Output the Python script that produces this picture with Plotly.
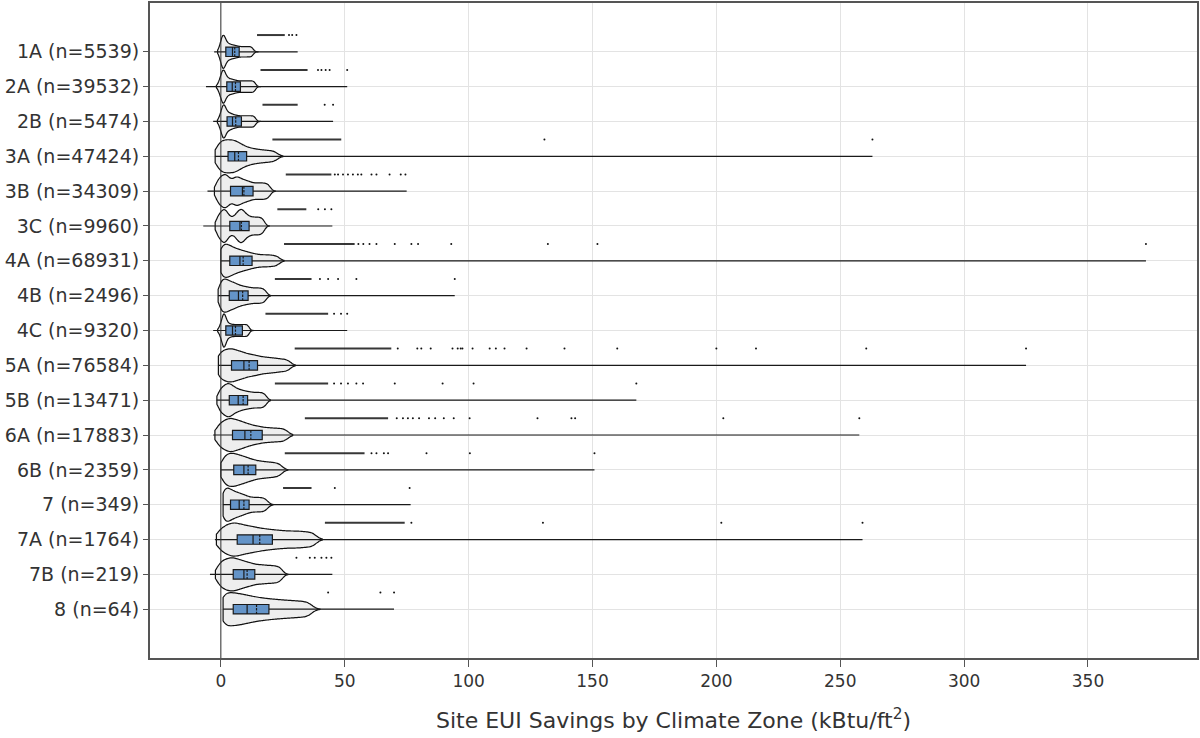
import plotly.graph_objects as go

# ---------------- data ----------------
zones = ["1A", "2A", "2B", "3A", "3B", "3C", "4A", "4B", "4C", "5A", "5B",
         "6A", "6B", "7", "7A", "7B", "8"]
counts = [5539, 39532, 5474, 47424, 34309, 9960, 68931, 2496, 9320, 76584,
          13471, 17883, 2359, 349, 1764, 219, 64]

# box statistics (kBtu/ft2)
q1 = [2.0, 2.4, 2.5, 2.9, 3.9, 3.6, 3.6, 3.4, 2.0, 4.3, 3.4, 4.7, 5.2, 3.9, 6.6, 5.0, 5.0]
median = [4.7, 4.6, 4.7, 5.6, 8.7, 7.7, 7.7, 7.1, 4.7, 9.3, 7.0, 9.7, 9.3, 7.4, 13.0, 9.3, 10.6]
mean = [5.6, 5.9, 6.0, 7.1, 9.3, 8.3, 9.0, 8.8, 5.9, 11.4, 9.0, 12.1, 11.0, 9.3, 15.7, 10.6, 14.4]
q3 = [7.4, 7.9, 8.3, 10.4, 13.0, 11.4, 12.6, 11.0, 8.7, 14.8, 10.8, 16.7, 14.1, 11.4, 20.8, 13.7, 19.4]
minimum = [-2.7, -6.0, -3.1, -2.4, -5.4, -7.1, 0.0, -1.1, -3.1, -1.0, -1.7, -3.1, 0.0, 0.9, -2.4, -4.4, 0.9]
maximum = [31.0, 51.0, 45.3, 263.0, 75.0, 45.0, 373.4, 94.4, 51.0, 325.0, 167.7, 257.7, 150.8, 76.6, 259.0, 45.0, 69.9]

# representative values of the violin bodies (estimated from the outline widths)
s_1A = [-0.5, 0.1, 0.4, 0.6, 0.8, 1.0, 1.2, 1.4, 1.7, 2.0, 2.4, 2.9, 3.4, 3.9, 4.5, 5.1, 5.7, 6.4, 7.1, 7.9, 8.7, 9.5, 10.3, 11.1, 11.9, 12.7]
s_2A = [-0.8, -0.1, 0.3, 0.6, 0.8, 1.0, 1.2, 1.5, 1.8, 2.2, 2.7, 3.2, 3.8, 4.4, 5.0, 5.7, 6.4, 7.2, 8.0, 8.8, 9.6, 10.4, 11.2, 12.0, 12.8, 13.6]
s_2B = [-0.5, 0.2, 0.5, 0.8, 1.0, 1.2, 1.4, 1.7, 2.0, 2.4, 2.9, 3.4, 3.9, 4.5, 5.1, 5.8, 6.5, 7.3, 8.1, 8.9, 9.7, 10.5, 11.3, 12.1, 12.9, 13.7]
s_3A = [-1.8, -1.0, -0.3, 0.3, 0.9, 1.5, 2.1, 2.7, 3.3, 3.9, 4.5, 5.1, 5.7, 6.3, 7.0, 7.7, 8.5, 9.4, 10.4, 11.5, 12.7, 14.0, 15.4, 16.9, 18.5, 20.2, 22.0]
s_3B = [-1.8, -1.0, -0.3, 0.3, 0.85, 1.4, 1.9, 2.4, 2.95, 3.65, 4.45, 5.2, 5.85, 6.45, 7.05, 7.7, 8.4, 9.15, 9.95, 10.8, 11.7, 12.7, 13.8, 14.9, 16.0, 17.1, 18.2, 19.4]
s_3C = [-1.5, -0.7, 0.0, 0.6, 1.1, 1.6, 2.1, 2.7, 3.5, 4.5, 5.5, 6.3, 6.9, 7.5, 8.0, 8.5, 9.0, 9.6, 10.3, 11.1, 12.0, 13.0, 14.0, 15.0, 16.0, 17.1]
s_4A = [0.0, 0.2, 0.7, 1.2, 1.7, 2.2, 2.7, 3.2, 3.7, 4.3, 4.9, 5.5, 6.2, 6.9, 7.6, 8.4, 9.2, 10.1, 11.0, 12.0, 13.1, 14.3, 15.6, 17.0, 18.4, 19.8, 21.3, 22.9]
s_4B = [-0.6, 0.0, 0.5, 1.0, 1.5, 2.0, 2.5, 3.0, 3.6, 4.2, 4.8, 5.4, 6.1, 6.8, 7.6, 8.4, 9.3, 10.2, 11.2, 12.2, 13.3, 14.4, 15.5, 16.6, 17.8]
s_4C = [-0.4, 0.3, 0.7, 0.9, 1.1, 1.3, 1.5, 1.7, 2.0, 2.4, 2.9, 3.5, 4.1, 4.8, 5.5, 6.2, 6.9, 7.6, 8.3, 9.0, 9.7, 10.4, 11.1]
s_5A = [-1.0, -0.5, 0.3, 1.0, 1.7, 2.3, 2.9, 3.5, 4.1, 4.7, 5.3, 5.9, 6.6, 7.3, 8.0, 8.7, 9.5, 10.3, 11.2, 12.1, 13.0, 14.0, 15.0, 16.1, 17.3, 18.5, 19.8, 21.1, 22.5, 24.0, 25.6, 27.3]
s_5B = [-0.8, -0.1, 0.6, 1.2, 1.8, 2.3, 2.8, 3.3, 3.8, 4.3, 4.9, 5.5, 6.2, 6.9, 7.7, 8.5, 9.4, 10.3, 11.3, 12.3, 13.4, 14.5, 15.6, 16.7, 17.9]
s_6A = [-1.5, -0.6, 0.2, 1.0, 1.7, 2.4, 3.0, 3.6, 4.2, 4.8, 5.4, 6.1, 6.8, 7.5, 8.2, 9.0, 9.8, 10.7, 11.6, 12.6, 13.7, 14.8, 16.0, 17.3, 18.7, 20.1, 21.6, 23.1, 24.7, 26.3]
s_6B = [0.4, 1.2, 1.9, 2.5, 3.1, 3.7, 4.3, 4.9, 5.5, 6.1, 6.7, 7.4, 8.1, 8.8, 9.5, 10.3, 11.1, 12.0, 12.9, 13.9, 15.0, 16.1, 17.3, 18.5, 19.8, 21.1, 22.5, 24.0]
s_7 = [0.9, 1.2, 1.7, 2.2, 2.7, 3.2, 3.7, 4.3, 4.9, 5.5, 6.2, 6.9, 7.6, 8.4, 9.2, 10.1, 11.1, 12.2, 13.4, 14.6, 15.8, 17.0, 18.3]
s_7A = [-1.0, 0.2, 1.3, 2.3, 3.2, 4.0, 4.8, 5.6, 6.4, 7.2, 8.1, 9.0, 9.9, 10.9, 11.9, 12.9, 14.0, 15.1, 16.3, 17.5, 18.8, 20.1, 21.5, 22.9, 24.4, 25.9, 27.5, 29.1, 30.7, 32.3, 34.0, 35.8, 37.6]
s_7B = [-1.2, -0.2, 0.7, 1.5, 2.3, 3.0, 3.7, 4.4, 5.1, 5.8, 6.5, 7.3, 8.1, 8.9, 9.8, 10.7, 11.7, 12.7, 13.8, 15.0, 16.2, 17.4, 18.7, 20.0, 21.3, 22.7, 24.1]
s_8 = [0.9, 1.3, 2.2, 3.1, 4.0, 4.9, 5.8, 6.7, 7.6, 8.6, 9.6, 10.6, 11.7, 12.8, 14.0, 15.2, 16.5, 17.8, 19.2, 20.6, 22.1, 23.6, 25.2, 26.8, 28.5, 30.2, 32.0, 33.9, 35.8]
samples = [s_1A, s_2A, s_2B, s_3A, s_3B, s_3C, s_4A, s_4B, s_4C, s_5A, s_5B,
           s_6A, s_6B, s_7, s_7A, s_7B, s_8]

span_lo = [-1.3, -1.8, -1.4, -2.3, -2.6, -2.3, 0.0, -1.1, -1.3, -1.0, -1.6, -2.4, 0.0, 0.9, -1.8, -2.2, 0.9]
span_hi = [15.0, 16.0, 16.0, 25.0, 22.0, 19.5, 25.5, 20.0, 13.0, 30.0, 20.0, 29.0, 27.0, 21.0, 41.0, 27.0, 40.0]
bandwidth = [0.7, 0.7, 0.7, 1.5, 1.0, 0.9, 1.3, 1.0, 0.65, 1.4, 1.0, 1.5, 1.4, 1.2, 1.7, 1.3, 1.8]

# outliers: dense runs (start/end) and isolated points
dense_start = [14.6, 16.0, 16.8, 20.8, 26.2, 22.8, 25.5, 21.8, 18.0, 29.8, 21.8, 33.9, 25.8, 25.1, 42.0, None, None]
dense_end = [25.8, 35.0, 31.0, 48.6, 44.6, 34.5, 54.0, 36.6, 43.3, 68.8, 43.3, 67.5, 58.0, 36.6, 74.2, None, None]
out_1A = [27.5, 28.8, 30.5]
out_2A = [39.2, 40.6, 42.3, 43.9, 51.0]
out_2B = [41.9, 45.3]
out_3A = [130.6, 263.0]
out_3B = [46.0, 47.3, 49.3, 51.3, 53.3, 55.3, 56.7, 60.8, 62.8, 68.1, 72.6, 74.5]
out_3C = [39.3, 42.0, 44.6]
out_4A = [55.5, 57.5, 60.0, 62.8, 70.2, 76.9, 79.6, 93.0, 132.0, 152.0, 373.4]
out_4B = [40.0, 43.3, 47.3, 54.7, 94.4]
out_4C = [45.7, 48.5, 51.0]
out_5A = [71.4, 79.3, 80.9, 84.7, 93.5, 95.6, 96.8, 97.5, 101.6, 108.5, 111.0, 114.5,
          123.4, 138.7, 160.0, 200.0, 216.0, 260.5, 325.0]
out_5B = [45.7, 48.5, 51.3, 54.7, 57.4, 70.2, 89.5, 102.0, 167.7]
out_6A = [71.0, 73.5, 75.5, 77.5, 80.0, 84.0, 86.5, 90.0, 94.0, 100.4, 127.8, 141.5,
          143.0, 202.8, 257.7]
out_6B = [60.8, 62.8, 65.8, 67.5, 83.0, 100.5, 150.8]
out_7 = [46.0, 76.2]
out_7A = [76.9, 130.0, 202.0, 259.0]
out_7B = [30.5, 35.9, 37.9, 40.6, 42.6, 44.6]
out_8 = [43.3, 64.4, 69.9]
outliers = [out_1A, out_2A, out_2B, out_3A, out_3B, out_3C, out_4A, out_4B, out_4C,
            out_5A, out_5B, out_6A, out_6B, out_7, out_7A, out_7B, out_8]

x_ticks = [0, 50, 100, 150, 200, 250, 300, 350]

# ---------------- styling ----------------
FONT = "DejaVu Sans"
TEXT = "#333333"
VIOLIN_FILL = "#eeeeee"
BOX_FILL = "#6494c8"
OUTLIER_SHIFT = -0.48

labels = [f"{z} (n={n})" for z, n in zip(zones, counts)]
pos = list(range(len(zones)))

fig = go.Figure()

for i, s in enumerate(samples):
    fig.add_trace(go.Violin(
        x=s, y0=pos[i], orientation="h", name=labels[i],
        width=0.95, scalemode="width",
        spanmode="manual", span=[span_lo[i], span_hi[i]],
        bandwidth=bandwidth[i],
        points=False, box_visible=False, meanline_visible=False,
        fillcolor=VIOLIN_FILL, line=dict(color="#111111", width=1.2),
        showlegend=False, hoverinfo="skip",
    ))

fig.add_trace(go.Box(
    y=pos, q1=q1, median=median, q3=q3, mean=mean,
    lowerfence=minimum, upperfence=maximum,
    orientation="h", boxmean=True, boxpoints=False,
    width=0.27, whiskerwidth=0,
    fillcolor=BOX_FILL, line=dict(color="#1a1a1a", width=1.2),
    showlegend=False, hoverinfo="skip",
))

for i in pos:
    yy = pos[i] + OUTLIER_SHIFT
    if dense_start[i] is not None:
        fig.add_trace(go.Scatter(
            x=[dense_start[i], dense_end[i]], y=[yy, yy], mode="lines",
            line=dict(color="rgba(20,20,20,0.85)", width=2),
            showlegend=False, hoverinfo="skip",
        ))
    fig.add_trace(go.Scatter(
        x=outliers[i], y=[yy] * len(outliers[i]), mode="markers",
        marker=dict(color="#111111", size=2),
        showlegend=False, hoverinfo="skip",
    ))

# zero reference line drawn above the violins
fig.add_shape(type="line", xref="x", yref="paper", x0=0, x1=0, y0=0, y1=1,
              line=dict(color="#333333", width=1), layer="above")

fig.update_layout(
    width=1200, height=738,
    margin=dict(l=150, r=2, t=1, b=80),
    paper_bgcolor="white", plot_bgcolor="white",
    font=dict(family=FONT, color=TEXT, size=17),
    violinmode="overlay", boxmode="overlay",
    showlegend=False,
)
fig.update_xaxes(
    range=[-28.6, 394], tickvals=x_ticks,
    showgrid=True, gridcolor="#e3e3e3", gridwidth=1,
    zeroline=False,
    showline=True, mirror=True, linecolor="#555555", linewidth=2,
    ticks="outside", ticklen=7, tickcolor="#555555",
    tickfont=dict(size=17, color=TEXT),
    title=dict(text="Site EUI Savings by Climate Zone (kBtu/ft<sup>2</sup>)",
               font=dict(size=22, color=TEXT), standoff=22),
)
fig.update_yaxes(
    type="linear", range=[17.4, -1.4],
    tickvals=pos, ticktext=labels,
    showgrid=True, gridcolor="#e3e3e3", gridwidth=1, zeroline=False,
    showline=True, mirror=True, linecolor="#555555", linewidth=2,
    ticks="outside", ticklen=5, tickcolor="#555555",
    tickfont=dict(size=19, color=TEXT),
)

fig.write_html("out.html")
